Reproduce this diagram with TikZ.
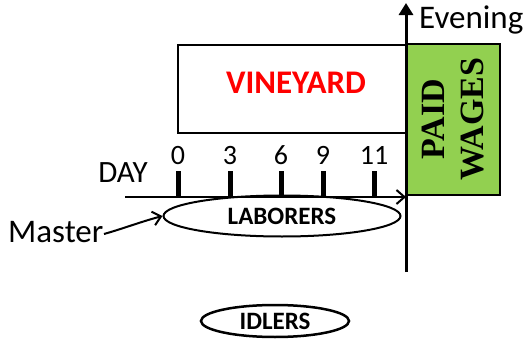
\documentclass[tikz,border=0pt]{standalone}
\usepackage{fontspec}
\setmainfont{Carlito}
\newfontfamily\timesbold{Liberation Serif}
\usetikzlibrary{arrows.meta,shapes.geometric}
\definecolor{wagegreen}{HTML}{92D050}
\tikzset{
  sz/.style={font=\fontsize{#1}{#1}\selectfont},
  ticklab/.style={sz=28, inner sep=0pt},
  tickbar/.style={line width=5pt},
  oval/.style={draw, ellipse, line width=2pt, inner sep=0pt},
}
\begin{document}
\begin{tikzpicture}[x=1pt,y=-1pt]
\useasboundingbox (0,0) rectangle (523,348);
% vineyard box
\node[draw, line width=1.5pt, minimum width=229pt, minimum height=88pt, inner sep=0pt, anchor=north west] (vine) at (177,44) {};
\node[text=red, inner sep=0pt, font=\bfseries\fontsize{33}{33}\selectfont] (vinet) at (296,83) {VINEYARD};
% green wages box
\node[draw, line width=1.5pt, fill=wagegreen, minimum width=93pt, minimum height=151pt, inner sep=0pt, anchor=north west] (wage) at (406,43) {};
\node[rotate=90, align=center, inner sep=0pt, font=\timesbold\bfseries\fontsize{34}{39}\selectfont] (waget) at (453,119) {PAID\\WAGES};
% vertical axis
\coordinate (vbot) at (406,272);
\coordinate (vtop) at (406,3);
\draw[line width=3pt, -{Triangle[length=12pt,width=14pt]}] (vbot) -- (vtop);
\node[anchor=base west, inner sep=0pt, sz=33] (even) at (419,28) {Evening};
% day axis
\coordinate (dstart) at (125,197);
\coordinate (dend) at (406,197);
\draw[line width=2pt, -{Straight Barb[length=8pt,width=14pt,line width=2pt]}] (dstart) -- (dend);
\node[anchor=base, inner sep=0pt, sz=31] (day) at (123,182) {DAY};
% ticks
\foreach \n/\x in {0/178,3/230,6/281,9/323,11/374}{
  \coordinate (tb\n) at (\x,197);
  \coordinate (tt\n) at (\x,171);
  \draw[tickbar] (tb\n) -- (tt\n);
  \node[ticklab, anchor=base] (lab\n) at (\x,164) {\n};
}
% laborers
\node[oval, minimum width=237pt, minimum height=41pt, font=\bfseries\fontsize{25}{25}\selectfont] (lab) at (282,216) {LABORERS};
% master
\node[anchor=base west, inner sep=0pt, sz=33] (master) at (8,242) {Master};
\coordinate (ms) at (104,234);
\draw[line width=2pt, -{Straight Barb[length=8pt,width=14pt,line width=2pt]}] (ms) .. controls (125,228) and (140,222) .. (lab.west);
% idlers
\node[oval, line width=2.5pt, minimum width=148pt, minimum height=32pt, font=\bfseries\fontsize{25}{25}\selectfont] (idl) at (275,321) {IDLERS};
\end{tikzpicture}
\end{document}
